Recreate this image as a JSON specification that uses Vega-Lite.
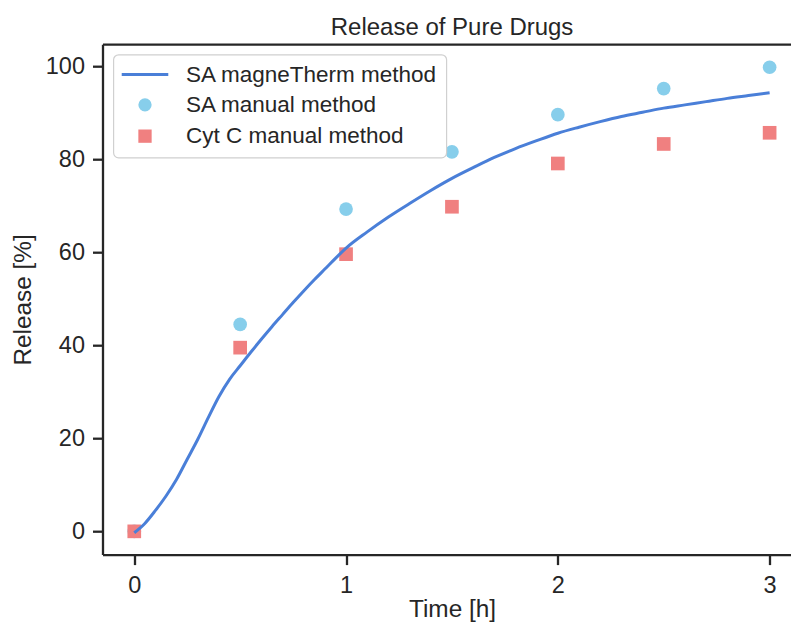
{
  "$schema": "https://vega.github.io/schema/vega-lite/v6.json",
  "autosize": {"type": "none"},
  "padding": {"left": 102.5, "top": 44.2, "right": 0, "bottom": 70.4},
  "width": 688.3,
  "height": 510.4,
  "background": "white",
  "title": {"text": "Release of Pure Drugs", "font": "Liberation Sans", "fontSize": 24, "fontWeight": "normal", "color": "#262626", "anchor": "middle", "frame": "group", "baseline": "alphabetic", "offset": 10, "dx": 5.4, "dy": 24.5},
  "config": {
    "view": {"stroke": null},
    "legend": {"orient": "none", "legendX": 10.8, "legendY": 10.3, "strokeWidth": 1.2, "fillColor": "white", "strokeColor": "#d0d0d0", "cornerRadius": 5, "padding": 8.8, "rowPadding": 5.3, "labelFont": "Liberation Sans", "labelFontSize": 22.5, "labelColor": "#262626", "labelLimit": 500, "symbolSize": 177, "symbolStrokeWidth": 2.9, "symbolOffset": 11.65, "labelOffset": 29.75, "symbolOpacity": 1},
    "axis": {"labelFont": "Liberation Sans", "labelFontSize": 23.5, "labelColor": "#262626", "titleFont": "Liberation Sans", "titleFontSize": 24.4, "titleFontWeight": "normal", "titleColor": "#262626", "tickColor": "#262626", "tickWidth": 2.3, "tickSize": 10, "domainColor": "#262626", "domainWidth": 2.3, "grid": false, "labelPadding": 8}
  },
  "datasets": {
    "pts": [
      {"series": "SA manual method", "time": 0, "release": 0},
      {"series": "SA manual method", "time": 0.5, "release": 44.5},
      {"series": "SA manual method", "time": 1.0, "release": 69.3},
      {"series": "SA manual method", "time": 1.5, "release": 81.6},
      {"series": "SA manual method", "time": 2.0, "release": 89.6},
      {"series": "SA manual method", "time": 2.5, "release": 95.2},
      {"series": "SA manual method", "time": 3.0, "release": 99.8},
      {"series": "Cyt C manual method", "time": 0, "release": 0},
      {"series": "Cyt C manual method", "time": 0.5, "release": 39.5},
      {"series": "Cyt C manual method", "time": 1.0, "release": 59.6},
      {"series": "Cyt C manual method", "time": 1.5, "release": 69.8},
      {"series": "Cyt C manual method", "time": 2.0, "release": 79.1},
      {"series": "Cyt C manual method", "time": 2.5, "release": 83.3},
      {"series": "Cyt C manual method", "time": 3.0, "release": 85.7}
    ],
    "curve": [
      {"series": "SA magneTherm method", "time": 0, "release": -0.3},
      {"series": "SA magneTherm method", "time": 0.05, "release": 1.7},
      {"series": "SA magneTherm method", "time": 0.1, "release": 4.5},
      {"series": "SA magneTherm method", "time": 0.15, "release": 7.6},
      {"series": "SA magneTherm method", "time": 0.2, "release": 11.2},
      {"series": "SA magneTherm method", "time": 0.25, "release": 15.5},
      {"series": "SA magneTherm method", "time": 0.3, "release": 19.8},
      {"series": "SA magneTherm method", "time": 0.35, "release": 24.5},
      {"series": "SA magneTherm method", "time": 0.4, "release": 29.0},
      {"series": "SA magneTherm method", "time": 0.45, "release": 32.7},
      {"series": "SA magneTherm method", "time": 0.5, "release": 35.6},
      {"series": "SA magneTherm method", "time": 0.55, "release": 38.5},
      {"series": "SA magneTherm method", "time": 0.6, "release": 41.3},
      {"series": "SA magneTherm method", "time": 0.65, "release": 44.0},
      {"series": "SA magneTherm method", "time": 0.7, "release": 46.6},
      {"series": "SA magneTherm method", "time": 0.75, "release": 49.2},
      {"series": "SA magneTherm method", "time": 0.8, "release": 51.7},
      {"series": "SA magneTherm method", "time": 0.85, "release": 54.1},
      {"series": "SA magneTherm method", "time": 0.9, "release": 56.4},
      {"series": "SA magneTherm method", "time": 0.95, "release": 58.7},
      {"series": "SA magneTherm method", "time": 1.0, "release": 60.9},
      {"series": "SA magneTherm method", "time": 1.1, "release": 64.4},
      {"series": "SA magneTherm method", "time": 1.2, "release": 67.6},
      {"series": "SA magneTherm method", "time": 1.3, "release": 70.5},
      {"series": "SA magneTherm method", "time": 1.4, "release": 73.3},
      {"series": "SA magneTherm method", "time": 1.5, "release": 75.9},
      {"series": "SA magneTherm method", "time": 1.6, "release": 78.2},
      {"series": "SA magneTherm method", "time": 1.7, "release": 80.4},
      {"series": "SA magneTherm method", "time": 1.8, "release": 82.3},
      {"series": "SA magneTherm method", "time": 1.9, "release": 84.0},
      {"series": "SA magneTherm method", "time": 2.0, "release": 85.6},
      {"series": "SA magneTherm method", "time": 2.1, "release": 86.9},
      {"series": "SA magneTherm method", "time": 2.2, "release": 88.1},
      {"series": "SA magneTherm method", "time": 2.3, "release": 89.2},
      {"series": "SA magneTherm method", "time": 2.4, "release": 90.1},
      {"series": "SA magneTherm method", "time": 2.5, "release": 91.0},
      {"series": "SA magneTherm method", "time": 2.6, "release": 91.7},
      {"series": "SA magneTherm method", "time": 2.7, "release": 92.4},
      {"series": "SA magneTherm method", "time": 2.8, "release": 93.1},
      {"series": "SA magneTherm method", "time": 2.9, "release": 93.7},
      {"series": "SA magneTherm method", "time": 3.0, "release": 94.3}
    ]
  },
  "resolve": {"axis": {"x": "independent"}},
  "layer": [
    {
      "data": {"name": "pts"},
      "mark": {"type": "point", "filled": true, "opacity": 1, "size": 187},
      "encoding": {
        "x": {"field": "time", "type": "quantitative", "scale": {"domain": [-0.15, 3.1], "nice": false, "zero": false}, "axis": {"orient": "top", "labels": false, "ticks": false, "title": null, "domain": true}},
        "y": {"field": "release", "type": "quantitative", "scale": {"domain": [-5, 104.75], "nice": false, "zero": false}, "axis": {"values": [0, 20, 40, 60, 80, 100], "title": "Release [%]", "titleBaseline": "alphabetic", "titleX": -72, "titleAngle": -90}},
        "color": {"field": "series", "type": "nominal", "scale": {"domain": ["SA magneTherm method", "SA manual method", "Cyt C manual method"], "range": ["#4a7fd8", "#87ceeb", "#f08080"]}, "legend": {"title": null}},
        "shape": {"field": "series", "type": "nominal", "scale": {"domain": ["SA magneTherm method", "SA manual method", "Cyt C manual method"], "range": ["M-3.5,0L3.5,0", "circle", "square"]}, "legend": {"title": null}},
        "stroke": {"field": "series", "type": "nominal", "scale": {"domain": ["SA magneTherm method", "SA manual method", "Cyt C manual method"], "range": ["#4a7fd8", "transparent", "transparent"]}, "legend": {"title": null}}
      }
    },
    {
      "data": {"name": "curve"},
      "mark": {"type": "line", "strokeWidth": 3, "interpolate": "monotone", "color": "#4a7fd8"},
      "encoding": {
        "x": {"field": "time", "type": "quantitative", "scale": {"domain": [-0.15, 3.1], "nice": false, "zero": false}, "axis": {"values": [0, 1, 2, 3], "format": "d", "title": "Time [h]", "titleBaseline": "alphabetic", "titleY": 62, "titleX": 349.5, "labelPadding": 8.5}},
        "y": {"field": "release", "type": "quantitative", "scale": {"domain": [-5, 104.75], "nice": false, "zero": false}, "axis": {"values": [0, 20, 40, 60, 80, 100], "title": "Release [%]", "titleBaseline": "alphabetic", "titleX": -72, "titleAngle": -90}}
      }
    }
  ]
}
